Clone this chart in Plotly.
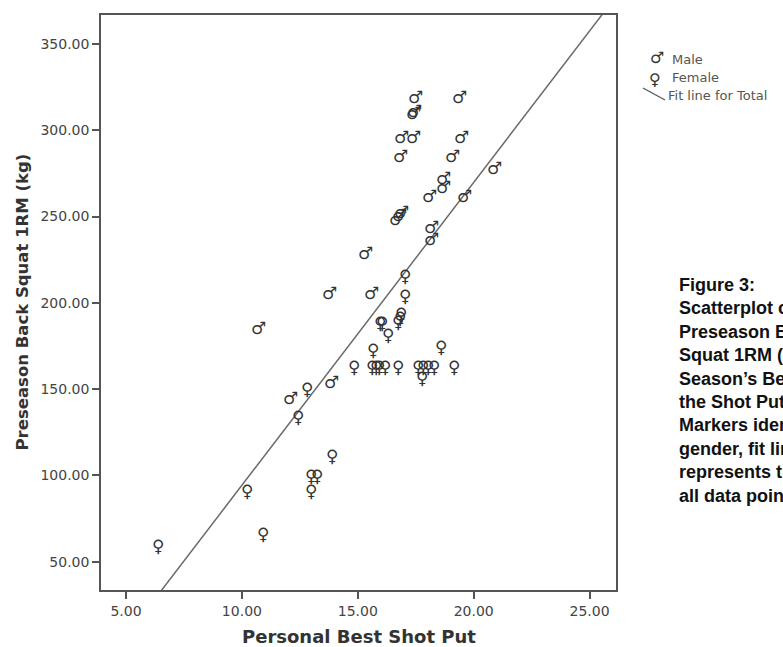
import plotly.graph_objects as go

# ---- data ----
male_x = [17.4, 19.3, 17.33, 17.37, 16.8, 17.3, 19.4, 16.75, 19.0, 20.8, 18.6, 18.6,
          18.0, 19.5, 16.6, 16.7, 16.8, 18.1, 18.1, 15.25, 13.7, 15.5, 10.65, 13.8, 12.0]
male_y = [318, 318, 309, 310, 295, 295, 295, 284, 284, 277, 271, 266,
          261, 261, 247.5, 249.5, 251.5, 243, 236, 228, 204.5, 204.5, 184, 153, 143.7]

female_x = [17.05, 17.05, 16.85, 16.8, 16.75, 15.95, 16.05, 16.3, 15.65, 18.6,
            14.85, 15.6, 15.8, 15.93, 16.18, 16.75, 17.6, 17.82, 18.03, 18.3, 19.17,
            17.75, 12.8, 12.4, 13.9, 13.0, 13.25, 13.0, 10.2, 10.9, 6.4]
female_y = [218, 206.5, 196, 194, 191.5, 191, 191, 184, 175, 177,
            165.7, 165.7, 165.7, 165.7, 165.7, 165.7, 165.7, 165.7, 165.7, 165.7, 165.7,
            159, 152.4, 136.6, 113.6, 102, 102, 93.5, 93.5, 68.4, 61.6]

fit_intercept = -81.2
fit_slope = 17.55

x_range = [3.92, 26.14]
y_range = [33.6, 366.8]
x_ticks = [5, 10, 15, 20, 25]
y_ticks = [50, 100, 150, 200, 250, 300, 350]

x_title = "Personal Best Shot Put"
y_title = "Preseason Back Squat 1RM (kg)"
legend_labels = ["Male", "Female", "Fit line for Total"]
caption_lines = ["Figure 3:", "Scatterplot of", "Preseason Back", "Squat 1RM (kg) vs.",
                 "Season\u2019s Best in", "the Shot Put.", "Markers identify",
                 "gender, fit line", "represents trend of", "all data points."]

MALE, FEMALE = "\u2642", "\u2640"

# ---- figure ----
W, H = 783, 647
L, R, T, B = 101, 616, 15, 590
AX = "#555555"
PT = "#333333"
FONT = "DejaVu Sans"
GLYPH = 17
# pixel offsets that put the glyph's ring on the data point
M_DX, M_DY = 2, 2
F_DX, F_DY = 0, -4.5

fig = go.Figure()

fit_x = x_range
fit_y = [fit_intercept + fit_slope * v for v in fit_x]
fig.add_trace(go.Scatter(x=fit_x, y=fit_y, mode="lines",
                         line=dict(color="#6a6a6a", width=1.5),
                         hoverinfo="skip", showlegend=False))

# invisible hover points (the visible glyphs are annotations on the same data coords)
fig.add_trace(go.Scatter(x=male_x, y=male_y, mode="markers", name="Male",
                         marker=dict(size=9, opacity=0), showlegend=False))
fig.add_trace(go.Scatter(x=female_x, y=female_y, mode="markers", name="Female",
                         marker=dict(size=9, opacity=0), showlegend=False))

axis_common = dict(showline=True, linecolor=AX, linewidth=1.5, mirror=True,
                   ticks="outside", ticklen=7, tickwidth=1.5, tickcolor=AX,
                   showgrid=False, zeroline=False, tickformat=".2f",
                   tickfont=dict(family=FONT, size=14, color="#444444"))

fig.update_layout(
    width=W, height=H,
    margin=dict(l=L, r=W - R, t=T, b=H - B, autoexpand=False),
    plot_bgcolor="white", paper_bgcolor="white",
    xaxis=dict(range=x_range, tickvals=x_ticks, **axis_common),
    yaxis=dict(range=y_range, tickvals=y_ticks, **axis_common),
)

annotations = []
for xv, yv in zip(male_x, male_y):
    annotations.append(dict(text=MALE, x=xv, y=yv, xref="x", yref="y", showarrow=False,
                            xshift=M_DX, yshift=M_DY, xanchor="center", yanchor="middle",
                            font=dict(family=FONT, size=GLYPH, color=PT)))
for xv, yv in zip(female_x, female_y):
    annotations.append(dict(text=FEMALE, x=xv, y=yv, xref="x", yref="y", showarrow=False,
                            xshift=F_DX, yshift=F_DY, xanchor="center", yanchor="middle",
                            font=dict(family=FONT, size=GLYPH, color=PT)))

# axis titles
annotations.append(dict(text="<b>" + x_title + "</b>", xref="paper", yref="paper", x=0.5, y=0,
                        yshift=-46, showarrow=False, yanchor="middle",
                        font=dict(family=FONT, size=18, color="#333333")))
annotations.append(dict(text="<b>" + y_title + "</b>", xref="paper", yref="paper", x=0, y=0.5,
                        xshift=-(L - 22), showarrow=False, textangle=-90, xanchor="center",
                        font=dict(family=FONT, size=16.5, color="#333333")))

# legend (custom)
leg_font = dict(family=FONT, size=13, color="#555555")
annotations.append(dict(text=MALE, xref="paper", yref="paper", x=1, y=1, xshift=655 - R + M_DX,
                        yshift=-(59 - T) + M_DY, showarrow=False, xanchor="center", yanchor="middle",
                        font=dict(family=FONT, size=GLYPH - 1, color=PT)))
annotations.append(dict(text=legend_labels[0], xref="paper", yref="paper", x=1, y=1,
                        xshift=670 - R, yshift=-(59 - T), showarrow=False,
                        xanchor="left", yanchor="middle", font=leg_font))
annotations.append(dict(text=FEMALE, xref="paper", yref="paper", x=1, y=1, xshift=655 - R + F_DX,
                        yshift=-(75 - T) + F_DY, showarrow=False, xanchor="center", yanchor="middle",
                        font=dict(family=FONT, size=GLYPH - 1, color=PT)))
annotations.append(dict(text=legend_labels[1], xref="paper", yref="paper", x=1, y=1,
                        xshift=670 - R, yshift=-(77 - T), showarrow=False,
                        xanchor="left", yanchor="middle", font=leg_font))
annotations.append(dict(text=legend_labels[2], xref="paper", yref="paper", x=1, y=1,
                        xshift=666 - R, yshift=-(95 - T), showarrow=False,
                        xanchor="left", yanchor="middle", font=leg_font))

# caption
annotations.append(dict(text="<br>".join("<b>" + s + "</b>" for s in caption_lines),
                        xref="paper", yref="paper", x=1, y=1, xshift=677 - R,
                        yshift=-(273 - T), showarrow=False, xanchor="left", yanchor="top",
                        align="left",
                        font=dict(family="Liberation Sans", size=18, color="#111111")))

fig.update_layout(annotations=annotations)

pw, ph = R - L, B - T
fig.add_shape(type="line", xref="paper", yref="paper",
              x0=(643 - L) / pw, y0=(B - 88) / ph, x1=(665 - L) / pw, y1=(B - 100) / ph,
              line=dict(color="#555555", width=1.3))

fig.write_html("out.html")
